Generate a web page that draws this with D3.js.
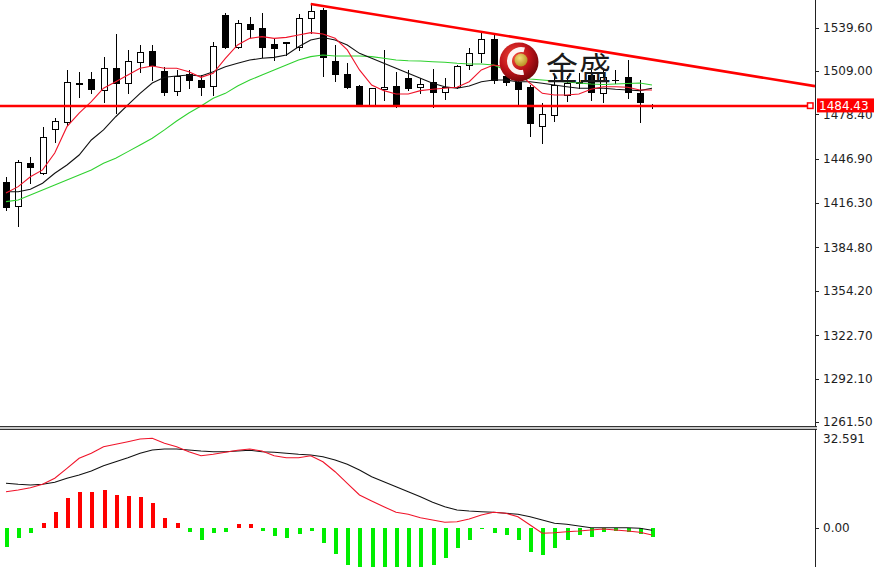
<!DOCTYPE html>
<html><head><meta charset="utf-8">
<script src="https://cdn.jsdelivr.net/npm/d3@7"></script>
<style>html,body{margin:0;padding:0;background:#fff;overflow:hidden}svg{display:block}</style>
</head><body><svg id="c" width="874" height="567"></svg>
<script>
// ---------- data ----------
const opens  = [1430.8,1413.9,1444.2,1437.1,1468.2,1473.3,1500.8,1503.2,1495.7,1510.9,1500.8,1515.6,1523.4,1509.1,1495.2,1506.9,1502.7,1498.5,1548.6,1526.2,1542.2,1539.6,1527.9,1528.6,1526.2,1546.2,1552.1,1516.3,1506.9,1498.5,1485.1,1496.4,1498.5,1503.9,1497.6,1501.5,1494.5,1497.6,1513.3,1521.9,1531.4,1505.5,1501.5,1498.0,1470.3,1478.0,1492.1,1501.3,1506.2,1493.6,1502.7,1504.8,1493.8,1484.6];
const highs  = [1434.3,1446.0,1448.4,1469.6,1475.9,1509.8,1508.6,1508.6,1519.1,1535.2,1523.9,1527.4,1527.4,1512.1,1509.8,1509.8,1506.2,1529.7,1549.8,1545.0,1547.4,1550.2,1532.1,1529.3,1549.3,1555.6,1553.3,1527.4,1514.9,1499.0,1497.1,1523.9,1508.6,1509.8,1503.9,1510.3,1503.9,1513.3,1525.6,1535.6,1534.4,1508.4,1502.7,1499.2,1486.3,1506.2,1505.5,1507.6,1509.8,1509.8,1509.8,1516.8,1502.7,1485.6];
const lows   = [1411.0,1399.8,1430.1,1436.4,1459.0,1471.0,1490.9,1493.3,1487.4,1479.2,1493.3,1508.6,1502.7,1492.1,1492.1,1496.9,1492.1,1492.1,1525.1,1525.1,1533.2,1519.1,1516.8,1520.3,1523.9,1535.6,1505.5,1502.2,1496.9,1484.6,1484.7,1488.6,1483.7,1495.7,1493.3,1483.5,1489.1,1496.9,1510.5,1515.6,1500.4,1499.2,1485.1,1463.2,1458.5,1474.0,1487.9,1497.1,1488.6,1487.2,1500.6,1490.0,1473.3,1482.9];
const closes = [1413.2,1444.9,1441.4,1462.5,1473.8,1501.5,1499.7,1496.2,1510.9,1500.4,1516.3,1522.7,1513.3,1494.5,1505.5,1502.7,1497.6,1526.7,1526.2,1542.7,1538.5,1526.2,1525.1,1529.3,1546.2,1551.6,1518.9,1506.9,1498.0,1485.1,1496.9,1497.8,1485.1,1496.9,1499.9,1494.5,1498.0,1512.6,1521.5,1531.4,1502.7,1501.3,1496.2,1472.2,1478.5,1499.2,1500.6,1500.6,1494.3,1504.8,1502.4,1494.3,1487.4,1484.43];

const maFast = [1423.0,1427.5,1434.5,1439.3,1451.2,1469.8,1479.4,1487.4,1496.9,1501.5,1506.2,1511.0,1512.6,1511.0,1511.0,1508.6,1504.6,1507.4,1518.0,1527.4,1532.1,1533.3,1532.1,1532.8,1534.5,1536.1,1535.2,1532.1,1523.9,1509.8,1499.2,1495.2,1492.8,1492.8,1495.2,1496.2,1496.9,1497.6,1501.5,1509.8,1513.3,1512.1,1507.7,1500.4,1493.3,1492.1,1492.1,1492.8,1496.2,1498.0,1498.0,1497.6,1495.7,1495.7];
const maMid  = [1423.9,1423.9,1425.6,1429.9,1436.9,1442.8,1449.8,1460.4,1467.5,1476.8,1485.1,1493.3,1500.6,1504.6,1505.5,1506.2,1505.5,1508.6,1512.1,1514.5,1516.8,1518.0,1518.7,1520.3,1526.2,1530.9,1532.7,1530.9,1527.4,1521.5,1518.0,1514.5,1511.0,1507.4,1503.9,1500.4,1498.0,1496.9,1498.5,1501.5,1502.7,1502.7,1501.5,1501.5,1500.4,1499.2,1498.0,1496.9,1496.9,1496.9,1496.2,1495.7,1495.2,1496.9];
const maSlow = [1416.9,1418.1,1421.6,1425.1,1428.7,1432.2,1435.7,1439.3,1444.0,1447.5,1452.2,1456.9,1461.6,1467.5,1473.8,1479.4,1484.4,1489.8,1493.3,1498.5,1502.7,1506.2,1509.8,1513.3,1516.8,1519.2,1520.3,1519.6,1519.6,1519.6,1519.2,1518.0,1516.8,1516.3,1516.1,1515.6,1515.2,1514.5,1514.0,1514.0,1513.3,1509.8,1505.5,1503.4,1502.7,1502.0,1501.3,1500.6,1499.9,1499.5,1499.9,1500.2,1500.6,1499.2];

const macdBlack = [15.24,14.90,14.66,14.90,15.59,16.97,18.10,19.48,21.31,22.69,24.07,25.59,26.72,27.07,27.07,26.72,26.38,26.14,26.14,26.38,26.62,26.14,25.93,25.59,25.24,25.00,24.41,23.28,21.79,19.83,17.52,15.79,14.07,12.34,10.62,8.69,7.17,6.03,5.69,5.45,5.24,4.90,4.55,3.72,2.59,1.45,1.10,0.52,-0.07,-0.07,-0.07,-0.07,-0.28,-0.97];
const macdRed   = [12.34,12.93,13.72,14.90,16.97,20.41,23.86,25.59,27.86,28.69,29.59,30.52,30.76,29.03,27.86,26.14,24.76,25.24,25.93,26.62,27.07,26.38,24.76,24.07,24.07,24.76,22.69,19.24,15.24,11.21,9.14,7.17,5.24,4.55,3.38,2.59,1.79,2.00,2.93,4.31,5.24,4.90,3.72,0.86,-2.00,-1.79,-1.45,-1.21,-0.86,-0.52,-0.86,-1.21,-1.66,-2.59];
const macdHist  = [-6.62,-3.72,-2.00,1.45,5.24,10.28,12.14,12.14,12.93,11.21,10.97,10.62,8.34,3.38,1.45,-1.66,-4.31,-2.00,-1.66,1.10,1.21,-1.21,-2.83,-3.72,-2.34,-1.21,-5.45,-9.24,-12.93,-17.2,-16.8,-17.2,-17.7,-15.6,-14.5,-12.8,-10.62,-7.17,-4.31,-0.52,-2.00,-2.59,-4.31,-8.34,-9.48,-7.17,-4.31,-2.59,-3.17,-1.45,-1.21,-1.45,-2.34,-3.17];

const priceTicks = [1539.60,1509.00,1478.40,1446.90,1416.30,1384.80,1354.20,1322.70,1292.10,1261.50];
const macdTicks  = [32.591, 0.00];
const macdTickLabels = ["32.591", "0.00"];
const currentPrice = 1484.43;
const trendAnchors = [{i:25, p:1556.3}, {i:53, p:1517.1}];
const watermark = "金盛";

// ---------- layout ----------
const W = 874, H = 567, axisX = 815;
const mainTop = 0, mainBot = 426, subTop = 430, subBot = 567;
const svg = d3.select("#c");
const n = closes.length;
const x = d3.scaleLinear().domain([0, n - 1]).range([6, 652]);
const y = d3.scaleLinear().domain([1261.5, 1539.6]).range([422, 27.7]);
const ym = d3.scaleLinear().domain([0, 32.591]).range([527.5, 433]);
const font = "'DejaVu Sans', Verdana, sans-serif";

svg.append("rect").attr("width", W).attr("height", H).attr("fill", "#fff");

svg.append("defs").call(d => {
  d.append("clipPath").attr("id", "mainClip").append("rect").attr("x", 0).attr("y", mainTop).attr("width", axisX).attr("height", mainBot - mainTop);
  d.append("clipPath").attr("id", "subClip").append("rect").attr("x", 0).attr("y", subTop + 1).attr("width", axisX).attr("height", subBot - subTop);
  const g = d.append("radialGradient").attr("id", "ball").attr("cx", "38%").attr("cy", "35%").attr("r", "70%");
  g.append("stop").attr("offset", "0%").attr("stop-color", "#f04a3a");
  g.append("stop").attr("offset", "55%").attr("stop-color", "#c0141a");
  g.append("stop").attr("offset", "100%").attr("stop-color", "#6e0408");
  const g2 = d.append("radialGradient").attr("id", "gold").attr("cx", "40%").attr("cy", "35%").attr("r", "70%");
  g2.append("stop").attr("offset", "0%").attr("stop-color", "#f3dc7a");
  g2.append("stop").attr("offset", "100%").attr("stop-color", "#b48a1c");
});

const main = svg.append("g").attr("clip-path", "url(#mainClip)");

// candles
const idx = d3.range(n);
const cg = main.append("g").attr("shape-rendering", "crispEdges");
cg.selectAll("line.wick").data(idx).join("line")
  .attr("x1", i => Math.round(x(i)) + 0.5).attr("x2", i => Math.round(x(i)) + 0.5)
  .attr("y1", i => Math.round(y(highs[i]))).attr("y2", i => Math.round(y(lows[i])) + 1)
  .attr("stroke", "#000").attr("stroke-width", 1);
cg.selectAll("rect.body").data(idx).join("rect")
  .attr("x", i => Math.round(x(i)) - 2.5)
  .attr("y", i => Math.round(y(Math.max(opens[i], closes[i]))) + 0.5)
  .attr("width", 6)
  .attr("height", i => Math.max(0.01, Math.round(y(Math.min(opens[i], closes[i]))) - Math.round(y(Math.max(opens[i], closes[i])))))
  .attr("fill", i => closes[i] >= opens[i] ? "#fff" : "#000")
  .attr("stroke", "#000").attr("stroke-width", 1);

// moving averages
const lineOf = arr => d3.line().x((d, i) => x(i)).y(d => y(d))(arr);
main.append("path").attr("d", lineOf(maSlow)).attr("fill", "none").attr("stroke", "#2fd12f").attr("stroke-width", 1.1);
main.append("path").attr("d", lineOf(maMid)).attr("fill", "none").attr("stroke", "#111").attr("stroke-width", 1.1);
main.append("path").attr("d", lineOf(maFast)).attr("fill", "none").attr("stroke", "#f0142a").attr("stroke-width", 1.1);

// horizontal price line
const yc = y(currentPrice);
main.append("line").attr("x1", 0).attr("x2", 807).attr("y1", yc).attr("y2", yc)
  .attr("stroke", "#ff0000").attr("stroke-width", 2.5);
main.append("rect").attr("x", 807.5).attr("y", yc - 3).attr("width", 5.5).attr("height", 5.5)
  .attr("fill", "#fff").attr("stroke", "#ff0000").attr("stroke-width", 1.5);

// trend line
const [a0, a1] = trendAnchors;
const slope = (a1.p - a0.p) / (a1.i - a0.i);
const iEdge = x.invert(axisX);
main.append("line")
  .attr("x1", x(a0.i)).attr("y1", y(a0.p))
  .attr("x2", axisX).attr("y2", y(a0.p + slope * (iEdge - a0.i)))
  .attr("stroke", "#ff0000").attr("stroke-width", 2.6);

// watermark logo
const lg = svg.append("g");
const cx = 519, cy = 62;
lg.append("circle").attr("cx", cx).attr("cy", cy).attr("r", 19.5).attr("fill", "url(#ball)");
lg.append("path")
  .attr("d", d3.arc().innerRadius(9).outerRadius(14).startAngle(0.55).endAngle(-3.3 + 0.2)())
  .attr("transform", `translate(${cx + 2},${cy - 1}) rotate(-15)`)
  .attr("fill", "#fff").attr("opacity", 0.95);
lg.append("circle").attr("cx", cx + 2).attr("cy", cy - 2).attr("r", 6.5).attr("fill", "url(#gold)");
lg.append("text").attr("x", 546).attr("y", 80).text(watermark)
  .attr("font-family", "'Noto Sans CJK SC', sans-serif").attr("font-size", 32)
  .attr("fill", "#1b1b1b").attr("letter-spacing", 1);

// ---------- MACD sub window ----------
const sub = svg.append("g").attr("clip-path", "url(#subClip)");
sub.append("g").attr("shape-rendering", "crispEdges").selectAll("rect").data(idx).join("rect")
  .attr("x", i => Math.round(x(i)) - 1.5)
  .attr("width", 4)
  .attr("y", i => macdHist[i] >= 0 ? ym(macdHist[i]) : ym(0))
  .attr("height", i => Math.abs(ym(macdHist[i]) - ym(0)))
  .attr("fill", i => macdHist[i] >= 0 ? "#ff0000" : "#00ee00");
const mline = arr => d3.line().x((d, i) => x(i)).y(d => ym(d))(arr);
sub.append("path").attr("d", mline(macdBlack)).attr("fill", "none").attr("stroke", "#111").attr("stroke-width", 1.1);
sub.append("path").attr("d", mline(macdRed)).attr("fill", "none").attr("stroke", "#f0142a").attr("stroke-width", 1.1);

// ---------- frame, separator ----------
const fr = svg.append("g").attr("shape-rendering", "crispEdges");
fr.append("line").attr("x1", 0).attr("x2", axisX + 2).attr("y1", mainBot + 0.5).attr("y2", mainBot + 0.5).attr("stroke", "#333");
fr.append("rect").attr("x", 0).attr("y", mainBot + 1).attr("width", axisX + 2).attr("height", 2).attr("fill", "#c8c8c8");
fr.append("line").attr("x1", 0).attr("x2", axisX + 2).attr("y1", subTop - 0.5).attr("y2", subTop - 0.5).attr("stroke", "#333");

// ---------- axes ----------
const axMain = svg.append("g").attr("transform", `translate(${axisX},0)`)
  .call(d3.axisRight(y).tickValues(priceTicks).tickFormat(d3.format(".2f")).tickSize(4).tickPadding(4));
axMain.select(".domain").remove();
axMain.append("line").attr("x1", 0.5).attr("x2", 0.5).attr("y1", 0).attr("y2", mainBot + 1).attr("stroke", "#222");

const axSub = svg.append("g").attr("transform", `translate(${axisX},0)`)
  .call(d3.axisRight(ym).tickValues(macdTicks).tickFormat((d, i) => macdTickLabels[i]).tickSize(4).tickPadding(4));
axSub.select(".domain").remove();
axSub.append("line").attr("x1", 0.5).attr("x2", 0.5).attr("y1", subTop - 1).attr("y2", H).attr("stroke", "#222");
axSub.selectAll(".tick").filter(d => d === macdTicks[0]).attr("transform", `translate(0,${ym(macdTicks[0]) + 6})`)
  .select("line").remove();

svg.selectAll(".tick text").attr("font-family", font).attr("font-size", 12).attr("fill", "#1e1e1e");
svg.selectAll(".tick line").attr("stroke", "#222").attr("shape-rendering", "crispEdges");

// current price label
const lbl = svg.append("g");
lbl.append("rect").attr("x", axisX + 2).attr("y", yc - 7.5).attr("width", W - axisX - 2).attr("height", 14).attr("fill", "#ff0000");
lbl.append("text").attr("x", axisX + 4).attr("y", yc).attr("dy", "0.35em").text(d3.format(".2f")(currentPrice))
  .attr("font-family", font).attr("font-size", 12).attr("fill", "#fff");
</script>
</body></html>
